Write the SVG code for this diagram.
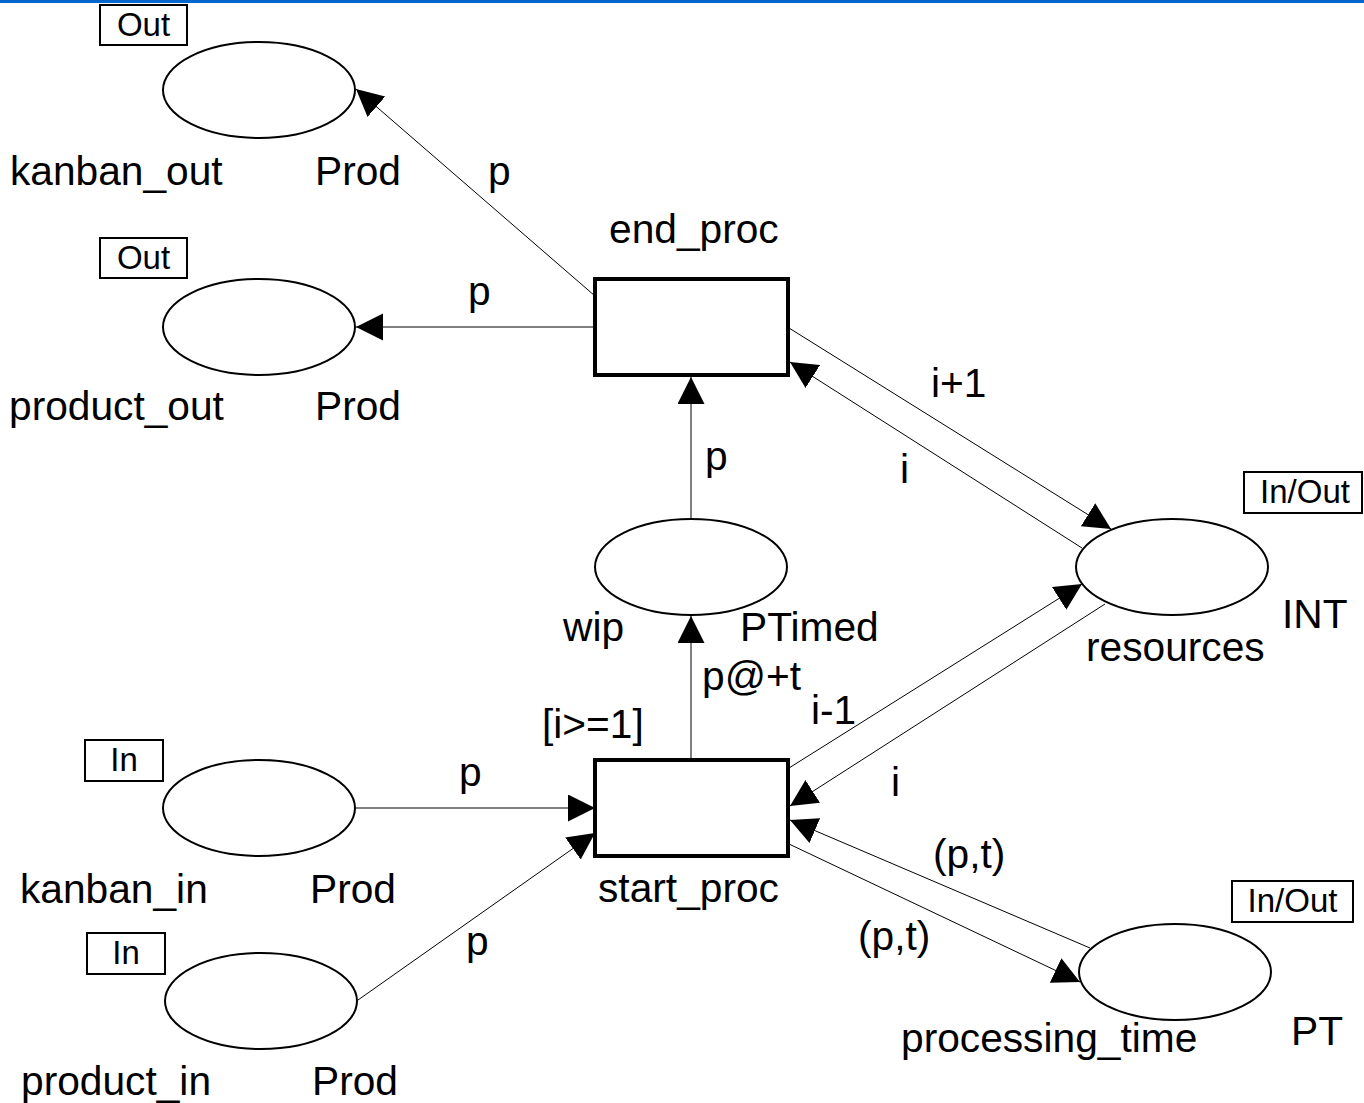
<svg xmlns="http://www.w3.org/2000/svg" width="1364" height="1103" viewBox="0 0 1364 1103">
  <style>
    .place { fill: #fff; stroke: #000; stroke-width: 2; }
    .trans { fill: #fff; stroke: #000; stroke-width: 4; }
    .port { fill: #fff; stroke: #000; stroke-width: 2; }
    .arc { fill: none; stroke: #000; stroke-width: 1; marker-end: url(#head); }
    text { font-family: "Liberation Sans", Arial, sans-serif; fill: #000; }
    .lbl { font-size: 40.7px; }
    .tag { font-size: 33px; text-anchor: middle; }
  </style>
  <defs>
    <marker id="head" markerUnits="userSpaceOnUse" markerWidth="28" markerHeight="28" refX="27" refY="13.5" orient="auto">
      <path d="M0,0 L27,13.5 L0,27 Z" fill="#000"/>
    </marker>
  </defs>

  <rect x="0" y="0" width="1364" height="1103" fill="#fff"/>
  <rect x="0" y="0" width="1364" height="3" fill="#0066cc"/>

  <!-- arcs -->
  <g id="connectors">
    <line class="arc" x1="595" y1="296" x2="356" y2="89"/>
    <line class="arc" x1="595" y1="327" x2="356" y2="327"/>
    <line class="arc" x1="691" y1="519" x2="691" y2="377"/>
    <line class="arc" x1="789" y1="328" x2="1111" y2="529"/>
    <line class="arc" x1="1082" y1="548" x2="790" y2="362"/>
    <line class="arc" x1="691" y1="760" x2="691" y2="616"/>
    <line class="arc" x1="356" y1="808" x2="595" y2="808"/>
    <line class="arc" x1="358" y1="1000" x2="595" y2="833"/>
    <line class="arc" x1="789" y1="768" x2="1082" y2="584"/>
    <line class="arc" x1="1105" y1="604" x2="790" y2="806"/>
    <line class="arc" x1="1090" y1="948" x2="790" y2="820"/>
    <line class="arc" x1="789" y1="844" x2="1080" y2="982"/>
  </g>

  <!-- arc inscriptions -->
  <g id="inscriptions">
    <text class="lbl" x="488" y="185">p</text>
    <text class="lbl" x="468" y="305">p</text>
    <text class="lbl" x="931" y="397">i+1</text>
    <text class="lbl" x="900" y="483">i</text>
    <text class="lbl" x="705" y="470">p</text>
    <text class="lbl" x="702" y="690">p@+t</text>
    <text class="lbl" x="811" y="724">i-1</text>
    <text class="lbl" x="891" y="796">i</text>
    <text class="lbl" x="459" y="786">p</text>
    <text class="lbl" x="466" y="955">p</text>
    <text class="lbl" x="933" y="868">(p,t)</text>
    <text class="lbl" x="858" y="950">(p,t)</text>
  </g>

  <g id="kanban_out">
    <ellipse class="place" cx="259" cy="90" rx="96" ry="48"/>
    <rect class="port" x="100" y="5" width="87" height="40"/>
    <text class="tag" x="143.5" y="36">Out</text>
    <text class="lbl" x="10" y="185">kanban_out</text>
    <text class="lbl" x="315" y="185">Prod</text>
  </g>

  <g id="product_out">
    <ellipse class="place" cx="259" cy="327" rx="96" ry="48"/>
    <rect class="port" x="100" y="238" width="87" height="40"/>
    <text class="tag" x="143.5" y="269">Out</text>
    <text class="lbl" x="9" y="420">product_out</text>
    <text class="lbl" x="315" y="420">Prod</text>
  </g>

  <g id="end_proc">
    <rect class="trans" x="595" y="279" width="193" height="96"/>
    <text class="lbl" x="609" y="243">end_proc</text>
  </g>

  <g id="wip">
    <ellipse class="place" cx="691" cy="567" rx="96" ry="48"/>
    <text class="lbl" x="563" y="641">wip</text>
    <text class="lbl" x="740" y="641">PTimed</text>
  </g>

  <g id="resources">
    <ellipse class="place" cx="1172" cy="567" rx="96" ry="48"/>
    <rect class="port" x="1244" y="472" width="118" height="41"/>
    <text class="tag" x="1305" y="503">In/Out</text>
    <text class="lbl" x="1086" y="661">resources</text>
    <text class="lbl" x="1282" y="628">INT</text>
  </g>

  <g id="start_proc">
    <rect class="trans" x="595" y="760" width="193" height="96"/>
    <text class="lbl" x="542" y="738">[i&gt;=1]</text>
    <text class="lbl" x="598" y="902">start_proc</text>
  </g>

  <g id="kanban_in">
    <ellipse class="place" cx="259" cy="808" rx="96" ry="48"/>
    <rect class="port" x="85" y="740" width="78" height="41"/>
    <text class="tag" x="124" y="771">In</text>
    <text class="lbl" x="20" y="903">kanban_in</text>
    <text class="lbl" x="310" y="903">Prod</text>
  </g>

  <g id="product_in">
    <ellipse class="place" cx="261" cy="1001" rx="96" ry="48"/>
    <rect class="port" x="87" y="933" width="78" height="41"/>
    <text class="tag" x="126" y="964">In</text>
    <text class="lbl" x="21" y="1095">product_in</text>
    <text class="lbl" x="312" y="1095">Prod</text>
  </g>

  <g id="processing_time">
    <ellipse class="place" cx="1175" cy="972" rx="96" ry="48"/>
    <rect class="port" x="1232" y="881" width="121" height="41"/>
    <text class="tag" x="1292.5" y="912">In/Out</text>
    <text class="lbl" x="901" y="1052">processing_time</text>
    <text class="lbl" x="1291" y="1045">PT</text>
  </g>
</svg>
